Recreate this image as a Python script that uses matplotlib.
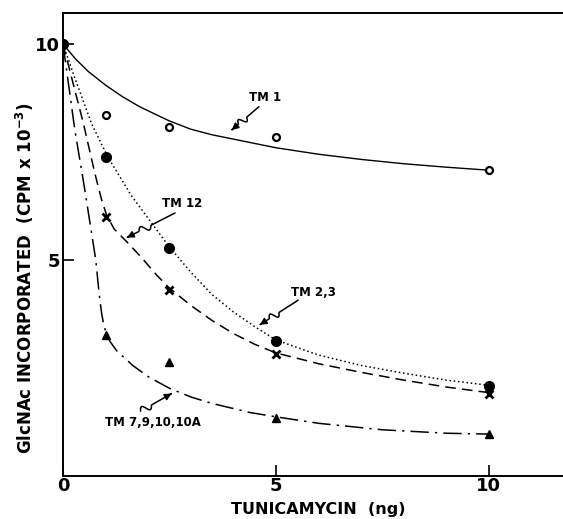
import matplotlib
matplotlib.use("Agg")
import matplotlib.pyplot as plt
import numpy as np
from matplotlib.path import Path
from matplotlib.patches import FancyArrowPatch

# measured points
dose = [0, 1, 2.5, 5, 10]
tm1_pts = [10, 8.36, 8.09, 7.85, 7.08]
tm23_pts = [10, 7.39, 5.27, 3.12, 2.08]
tm12_pts = [10, 6.0, 4.3, 2.82, 1.91]
tm7_pts = [10, 3.26, 2.65, 1.34, 0.97]

# hand-drawn curves
tm1_cx = [0, 0.3, 0.6, 1, 1.4, 1.8, 2.2, 2.5, 3, 3.5, 4, 4.5, 5, 6, 7, 8, 9, 10]
tm1_cy = [10, 9.65, 9.36, 9.05, 8.78, 8.55, 8.36, 8.22, 8.03, 7.9, 7.8, 7.7, 7.6, 7.45, 7.33, 7.23, 7.15, 7.08]
tm23_cx = [0, 0.24, 0.67, 1.05, 1.6, 2.16, 2.5, 3, 3.5, 4, 4.5, 5, 6, 7, 8, 9, 10]
tm23_cy = [10, 9.32, 8.16, 7.39, 6.5, 5.75, 5.3, 4.72, 4.2, 3.8, 3.46, 3.15, 2.8, 2.56, 2.38, 2.22, 2.1]
tm12_cx = [0, 0.48, 0.75, 0.9, 1.02, 1.2, 1.5, 1.85, 2.2, 2.5, 3, 3.5, 4, 4.5, 5, 6, 7, 8, 9, 10]
tm12_cy = [10, 8.16, 7.0, 6.42, 6.05, 5.72, 5.42, 5.05, 4.65, 4.35, 3.95, 3.6, 3.3, 3.05, 2.85, 2.6, 2.4, 2.22, 2.06, 1.93]
tm7_cx = [0, 0.28, 0.5, 0.77, 0.85, 0.91, 0.96, 1.02, 1.1, 1.26, 1.65, 2.0, 2.5, 3, 3.5, 4.39, 5, 6, 7.5, 9, 10]
tm7_cy = [10, 8.0, 6.7, 5.0, 4.2, 3.75, 3.48, 3.3, 3.12, 2.9, 2.55, 2.3, 2.03, 1.83, 1.68, 1.47, 1.37, 1.22, 1.07, 0.99, 0.97]

x_ticks = [0, 5, 10]
y_ticks = [5, 10]
y_ticklabels = ["5", "10"]

labels = ["TM 1", "TM 12", "TM 2,3", "TM 7,9,10,10A"]

plt.rcParams['font.family'] = ['DejaVu Sans']

fig = plt.figure(figsize=(5.63, 5.19), dpi=100)
ax = fig.add_axes([63/563, 1-476/519, 1-63/563, (476-13)/519])
ax.set_xlim(0, 11.74)
ax.set_ylim(0, 10.72)

k = 'black'
ax.plot(tm1_cx, tm1_cy, color=k, lw=1.0, ls='-')
ax.plot(tm23_cx, tm23_cy, color=k, lw=1.1, ls=(0, (1, 1.8)))
ax.plot(tm12_cx, tm12_cy, color=k, lw=1.1, ls=(0, (7, 4)))
ax.plot(tm7_cx, tm7_cy, color=k, lw=1.1, ls=(0, (12, 4, 1.5, 4)))

ax.plot(dose[1:], tm1_pts[1:], ls='none', marker='o', ms=5, mfc='white', mec=k, mew=1.6)
ax.plot(dose, tm23_pts, ls='none', marker='o', ms=7, mfc=k, mec=k)
ax.plot(dose[1:], tm12_pts[1:], ls='none', marker='x', ms=5.5, mec=k, mew=2.0)
ax.plot(dose[1:], tm7_pts[1:], ls='none', marker='^', ms=5.5, mfc=k, mec=k)
ax.plot([dose[0]], [tm1_pts[0]], ls='none', marker='o', ms=6, mfc='none', mec=k, mew=1.5)

ax.spines['right'].set_visible(False)
for sp in ['left', 'bottom', 'top']:
    ax.spines[sp].set_linewidth(1.4)

ax.set_xticks(x_ticks)
ax.set_xticklabels([str(v) for v in x_ticks], fontsize=13, fontweight='bold')
ax.set_yticks(y_ticks)
ax.set_yticklabels(y_ticklabels, fontsize=13, fontweight='bold')
ax.tick_params(axis='x', direction='in', length=8, width=1.2, pad=1)
ax.tick_params(axis='y', direction='in', length=8, width=1.2, pad=2)

ax.set_xlabel("TUNICAMYCIN  (ng)", fontsize=11.5, fontweight='bold', va='top')
ax.xaxis.set_label_coords(0.51, -0.056)
ax.set_ylabel(r"GlcNAc INCORPORATED  (CPM x 10$^{\mathbf{-3}}$)", fontsize=12, fontweight='bold')
ax.yaxis.set_label_coords(-0.054, 0.428)


def squiggle_arrow(tail, tip, s0, s1, amp=3.5):
    p0 = ax.transData.transform(tail)
    p1 = ax.transData.transform(tip)
    d = p1 - p0
    L = np.hypot(*d)
    u = d / L
    n = np.array([-u[1], u[0]])
    t = np.linspace(0, 1, 120)
    w = np.zeros_like(t)
    m = (t >= s0) & (t <= s1)
    w[m] = amp * np.sin(2 * np.pi * (t[m] - s0) / (s1 - s0))
    pts = p0[None, :] + t[:, None] * d[None, :] + w[:, None] * n[None, :]
    pts = ax.transData.inverted().transform(pts)
    patch = FancyArrowPatch(path=Path(pts), arrowstyle='-|>', mutation_scale=10,
                            color=k, lw=1.1)
    ax.add_patch(patch)


lab = dict(fontsize=8.5, fontweight='bold', ha='center', va='center')
ax.text(4.74, 8.77, labels[0], **lab)
squiggle_arrow((4.60, 8.55), (3.96, 8.01), 0.45, 0.75)
ax.text(2.8, 6.3, labels[1], **lab)
squiggle_arrow((2.63, 6.09), (1.5, 5.52), 0.5, 0.75)
ax.text(5.87, 4.26, labels[2], **lab)
squiggle_arrow((5.52, 4.07), (4.62, 3.5), 0.5, 0.75)
ax.text(2.1, 1.23, labels[3], **lab)
squiggle_arrow((1.82, 1.5), (2.55, 1.91), 0.0, 0.35)

fig.savefig("out.png", dpi=100)
